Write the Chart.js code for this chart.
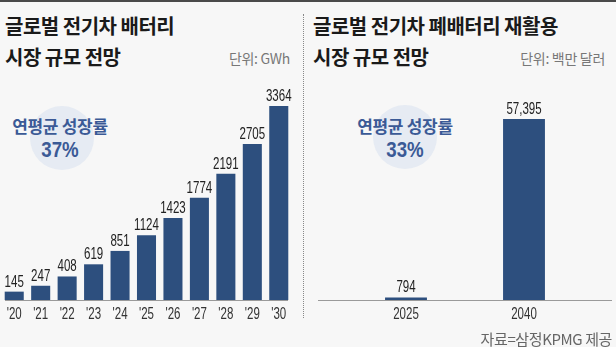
<!DOCTYPE html>
<html>
<head>
<meta charset="utf-8">
<script src="https://cdn.jsdelivr.net/npm/chart.js@4"></script>
<style>
  body { margin: 0; background: #f7f7f7; }
  #wrap { position: relative; width: 616px; height: 347px; overflow: hidden; background: #f7f7f7; border-top: 2px solid #4a4a4a; box-sizing: border-box; font-family: "Noto Sans CJK KR", "Noto Sans", sans-serif; }
  .title { position: absolute; font-weight: bold; font-size: 20px; color: #1a1a1a; line-height: 31px; letter-spacing: -0.5px; }
  .unit { position: absolute; font-size: 14px; color: #777; letter-spacing: -0.3px; }
  .circle { position: absolute; width: 64px; height: 64px; border-radius: 50%; background: #e6ebf3; }
  .cagr { position: absolute; text-align: center; color: #3b5a96; font-weight: bold; width: 120px; }
  .cagr .a { font-size: 17px; line-height: 21px; letter-spacing: -0.3px; }
  .cagr .b { font-size: 22px; line-height: 28px; font-family: "Liberation Sans", sans-serif; transform: scaleX(0.85); }
  canvas { position: absolute; top: 0; }
  #divider { position: absolute; left: 303px; top: 12px; height: 304px; border-left: 1px dotted #888; }
  #src { position: absolute; right: 4px; top: 326px; font-size: 15px; color: #666; letter-spacing: -0.4px; }
</style>
</head>
<body>
<div id="wrap">
  <div class="title" style="left:5px; top:8px;">글로벌 전기차 배터리<br>시장 규모 전망</div>
  <div class="unit" style="right:326px; top:46px;">단위: GWh</div>
  <div class="title" style="left:313px; top:8px;">글로벌 전기차 폐배터리 재활용<br>시장 규모 전망</div>
  <div class="unit" style="right:11px; top:46px;">단위: 백만 달러</div>
  <div class="circle" style="left:30px; top:104px;"></div>
  <div class="circle" style="left:373px; top:103px;"></div>
  <div class="cagr" style="left:0px; top:113px;"><div class="a">연평균 성장률</div><div class="b">37%</div></div>
  <div class="cagr" style="left:345px; top:113px;"><div class="a">연평균 성장률</div><div class="b">33%</div></div>
  <div id="divider"></div>
  <canvas id="left" width="300" height="347" style="left:0;"></canvas>
  <canvas id="right" width="316" height="347" style="left:300px;"></canvas>
  <div id="src">자료=삼정KPMG 제공</div>
</div>
<script>
const batteryYears = ["'20", "'21", "'22", "'23", "'24", "'25", "'26", "'27", "'28", "'29", "'30"];
const batteryGWh = [145, 247, 408, 619, 851, 1124, 1423, 1774, 2191, 2705, 3364];

const recycleYears = ["2025", "2040"];
const recycleMillionUSD = [794, 57395];

const barColor = "#2d4f7e";
const numFont = "'Liberation Sans', 'Roboto', sans-serif";
const squeeze = 0.72; // narrow digits like the original

function narrowText(ctx, text, x, y) {
  ctx.save();
  ctx.translate(x, y);
  ctx.scale(squeeze, 1);
  ctx.fillText(text, 0, 0);
  ctx.restore();
}

// value labels above bars + category labels under the axis
function labelsPlugin(fmt, lineFrom, lineTo) {
  return {
    id: "labels",
    afterDatasetsDraw(chart) {
      const ctx = chart.ctx;
      const meta = chart.getDatasetMeta(0);
      const xs = chart.scales.x;
      const y0 = Math.round(chart.scales.y.getPixelForValue(0));

      ctx.save();
      ctx.strokeStyle = "#9a9a9a";
      ctx.lineWidth = 1;
      ctx.beginPath();
      ctx.moveTo(lineFrom, y0 + 0.5);
      ctx.lineTo(lineTo, y0 + 0.5);
      ctx.stroke();

      ctx.textAlign = "center";
      ctx.textBaseline = "alphabetic";
      ctx.font = "16px " + numFont;
      ctx.fillStyle = "#222";
      meta.data.forEach((bar, i) => {
        narrowText(ctx, fmt(chart.data.datasets[0].data[i]), bar.x, bar.y - 5);
      });
      ctx.fillStyle = "#333";
      chart.data.labels.forEach((lab, i) => {
        narrowText(ctx, lab, xs.getPixelForValue(i), y0 + 19);
      });
      ctx.restore();
    }
  };
}

function makeChart(id, labels, values, opts) {
  return new Chart(document.getElementById(id), {
    type: "bar",
    data: {
      labels: labels,
      datasets: [{
        data: values,
        backgroundColor: barColor,
        borderWidth: 0,
        barPercentage: opts.barPct,
        categoryPercentage: 1
      }]
    },
    options: {
      responsive: false,
      animation: false,
      layout: { padding: opts.padding },
      plugins: { legend: { display: false }, tooltip: { enabled: false } },
      scales: {
        x: {
          grid: { display: false, drawTicks: false },
          border: { display: false },
          ticks: { display: false }
        },
        y: { display: false, min: 0, max: opts.max }
      }
    },
    plugins: [labelsPlugin(opts.fmt, opts.lineFrom, opts.lineTo)]
  });
}

makeChart("left", batteryYears, batteryGWh, {
  barPct: 0.72,
  padding: { left: 1, right: 8, top: 90, bottom: 49 },
  max: 3607,
  fmt: v => String(v),
  lineFrom: 5, lineTo: 288
});

makeChart("right", recycleYears, recycleMillionUSD, {
  barPct: 0.355,
  padding: { left: 47, right: 33, top: 100, bottom: 49 },
  max: 62786,
  fmt: v => v.toLocaleString("en-US"),
  lineFrom: 18, lineTo: 312
});
</script>
</body>
</html>
